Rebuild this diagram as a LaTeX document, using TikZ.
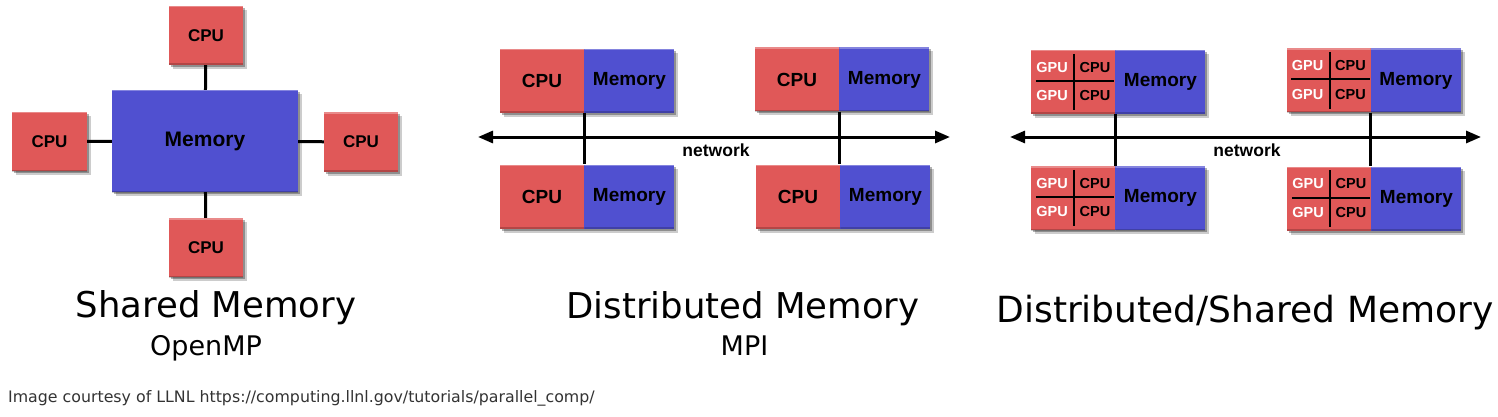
\documentclass[tikz,border=0pt]{standalone}
\usepackage{fontspec}
\setmainfont{DejaVu Sans}
\newfontfamily\boxfont{Liberation Sans}
\usetikzlibrary{positioning,calc,shadows,arrows.meta}
\definecolor{cpured}{RGB}{224,88,88}
\definecolor{memblue}{RGB}{80,80,208}
\tikzset{
  box/.style={inner sep=0pt,
    drop shadow={shadow xshift=2pt,shadow yshift=-2pt,fill=black,opacity=.3},
    drop shadow={shadow xshift=4pt,shadow yshift=-4pt,fill=black,opacity=.2},
    path picture={
      \draw[white,opacity=.3,line width=3pt] (path picture bounding box.north west) -- (path picture bounding box.north east);
      \draw[black,opacity=.2,line width=3pt] (path picture bounding box.south west) -- (path picture bounding box.south east);}},
  cpubox/.style={box,fill=cpured,minimum width=84pt,minimum height=64pt,font=\boxfont\bfseries\fontsize{19}{19}\selectfont},
  membox/.style={box,fill=memblue,minimum width=90pt,minimum height=64pt,font=\boxfont\bfseries\fontsize{19}{19}\selectfont},
  smallcpu/.style={cpubox,minimum width=74pt,minimum height=59pt,font=\boxfont\bfseries\fontsize{17}{17}\selectfont},
  quad/.style={inner sep=0pt,font=\boxfont\bfseries\fontsize{14.5}{14.5}\selectfont},
  gpulabel/.style={quad,text=white},
  link/.style={line width=3pt},
  cross/.style={line width=2pt},
  net/.style={line width=3pt,{Triangle[length=15pt,width=12pt]}-{Triangle[length=15pt,width=12pt]}},
  nettext/.style={font=\boxfont\bfseries\fontsize{17.5}{17.5}\selectfont,anchor=base},
  title/.style={font=\fontsize{35.5}{42}\selectfont,anchor=base},
  subtitle/.style={font=\fontsize{27}{32}\selectfont,anchor=base}
}
\begin{document}
\begin{tikzpicture}[x=1pt,y=-1pt]
    \fill[white] (0,0) rectangle (1498,417);
    \useasboundingbox (0,0) rectangle (1498,417);

    % shared memory
    \node[membox,minimum width=186pt,minimum height=102pt,font=\boxfont\bfseries\fontsize{21}{21}\selectfont] (smem) at (205,141) {Memory};
    \node[smallcpu] (scpu1) at (206,35.5) {CPU};
    \node[smallcpu,minimum width=75pt] (scpu2) at (49.5,141.5) {CPU};
    \node[smallcpu] (scpu3) at (361,142) {CPU};
    \node[smallcpu] (scpu4) at (206,247.5) {CPU};
    \draw[link] (scpu1) -- (smem);
    \draw[link] (scpu2) -- (smem);
    \draw[link] (scpu3) -- (smem);
    \draw[link] (scpu4) -- (smem);

    % distributed memory
    \coordinate (dleft) at (478,137);
    \coordinate (dright) at (950,137);
    \draw[net] (dleft) -- (dright);
    \node[nettext] (dnet) at (716,156) {network};

    \node[cpubox] (dcpu1) at (542,81) {CPU};
    \node[membox,right=0pt of dcpu1] (dmem1) {Memory};
    \node[cpubox] (dcpu2) at (797,79.5) {CPU};
    \node[membox,right=0pt of dcpu2] (dmem2) {Memory};
    \node[cpubox] (dcpu3) at (542,196.5) {CPU};
    \node[membox,right=0pt of dcpu3] (dmem3) {Memory};
    \node[cpubox] (dcpu4) at (798,196.5) {CPU};
    \node[membox,right=0pt of dcpu4] (dmem4) {Memory};
    \draw[link] (dcpu1.south east) -- (dcpu1.south east |- dcpu3.north);
    \draw[link] (dcpu2.south east) -- (dcpu2.south east |- dcpu4.north);

    % distributed/shared memory
    \coordinate (hleft) at (1010,137);
    \coordinate (hright) at (1481,137);
    \draw[net] (hleft) -- (hright);
    \node[nettext] (hnet) at (1247,157) {network};

    \node[cpubox] (hcpu1) at (1073,82) {};
    \node[membox,right=0pt of hcpu1] (hmem1) {Memory};
    \draw[cross] ($(hcpu1.north)+(1,4)$) -- ($(hcpu1.south)+(1,-4)$);
    \draw[cross] ($(hcpu1.west)+(5,-1)$) -- ($(hcpu1.east)+(-1,-1)$);
    \node[gpulabel] (hgpu1a) at ($(hcpu1)+(-21,-14.5)$) {GPU};
    \node[gpulabel] (hgpu1b) at ($(hcpu1)+(-21,14)$) {GPU};
    \node[quad] (hcore1a) at ($(hcpu1)+(22,-14.5)$) {CPU};
    \node[quad] (hcore1b) at ($(hcpu1)+(22,14)$) {CPU};

    \node[cpubox] (hcpu2) at (1328.5,80.5) {};
    \node[membox,right=0pt of hcpu2] (hmem2) {Memory};
    \draw[cross] ($(hcpu2.north)+(1,4)$) -- ($(hcpu2.south)+(1,-4)$);
    \draw[cross] ($(hcpu2.west)+(5,-1)$) -- ($(hcpu2.east)+(-1,-1)$);
    \node[gpulabel] (hgpu2a) at ($(hcpu2)+(-21,-14.5)$) {GPU};
    \node[gpulabel] (hgpu2b) at ($(hcpu2)+(-21,14)$) {GPU};
    \node[quad] (hcore2a) at ($(hcpu2)+(22,-14.5)$) {CPU};
    \node[quad] (hcore2b) at ($(hcpu2)+(22,14)$) {CPU};

    \node[cpubox] (hcpu3) at (1073,198) {};
    \node[membox,right=0pt of hcpu3] (hmem3) {Memory};
    \draw[cross] ($(hcpu3.north)+(1,4)$) -- ($(hcpu3.south)+(1,-4)$);
    \draw[cross] ($(hcpu3.west)+(5,-1)$) -- ($(hcpu3.east)+(-1,-1)$);
    \node[gpulabel] (hgpu3a) at ($(hcpu3)+(-21,-14.5)$) {GPU};
    \node[gpulabel] (hgpu3b) at ($(hcpu3)+(-21,14)$) {GPU};
    \node[quad] (hcore3a) at ($(hcpu3)+(22,-14.5)$) {CPU};
    \node[quad] (hcore3b) at ($(hcpu3)+(22,14)$) {CPU};

    \node[cpubox] (hcpu4) at (1329,198.5) {};
    \node[membox,right=0pt of hcpu4] (hmem4) {Memory};
    \draw[cross] ($(hcpu4.north)+(1,4)$) -- ($(hcpu4.south)+(1,-4)$);
    \draw[cross] ($(hcpu4.west)+(5,-1)$) -- ($(hcpu4.east)+(-1,-1)$);
    \node[gpulabel] (hgpu4a) at ($(hcpu4)+(-21,-14.5)$) {GPU};
    \node[gpulabel] (hgpu4b) at ($(hcpu4)+(-21,14)$) {GPU};
    \node[quad] (hcore4a) at ($(hcpu4)+(22,-14.5)$) {CPU};
    \node[quad] (hcore4b) at ($(hcpu4)+(22,14)$) {CPU};

    \draw[link] (hcpu1.south east) -- (hcpu1.south east |- hcpu3.north);
    \draw[link] (hcpu2.south east) -- (hcpu2.south east |- hcpu4.north);

    % titles
    \node[title] (tshared) at (216,317) {Shared Memory};
    \node[subtitle] (tomp) at (206,355) {OpenMP};
    \node[title] (tdist) at (743,318) {Distributed Memory};
    \node[subtitle] (tmpi) at (744.5,355) {MPI};
    \node[title,font=\fontsize{36}{42}\selectfont] (thybrid) at (1245,322) {Distributed/Shared Memory};
    \node[anchor=base west,inner sep=0pt,text=black!80,font=\fontsize{15.8}{18}\selectfont] (credit) at (8,402) {Image courtesy of LLNL https://computing.llnl.gov/tutorials/parallel\_comp/};
\end{tikzpicture}
\end{document}
